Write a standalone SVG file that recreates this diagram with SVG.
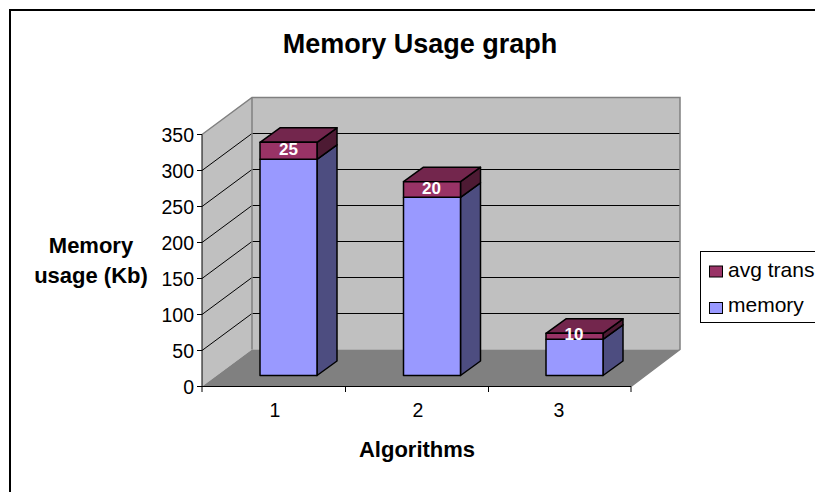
<svg xmlns="http://www.w3.org/2000/svg" width="815" height="492" viewBox="0 0 815 492">
<style>
text{font-family:"Liberation Sans",Arial,sans-serif;fill:#000}
.b{font-weight:bold}
.tick{font-size:19.5px;text-anchor:end}
.cat{font-size:19.5px;text-anchor:middle}
.ax{font-size:22px;font-weight:bold;text-anchor:middle}
.val{font-size:17px;font-weight:bold;fill:#fff;text-anchor:middle}
.leg{font-size:21px}
.grid{stroke:#000;stroke-width:1;fill:none}
.edge{stroke:#808080;stroke-width:1.5;fill:none}
.bar{stroke:#000;stroke-width:1.5;stroke-linejoin:round}
.mf{fill:#9999FF}.ms{fill:#4D4D80}
.af{fill:#993366}.at{fill:#73264D}.as{fill:#4D1A33}
</style>
<rect x="10" y="10" width="900" height="600" fill="#fff" stroke="#000" stroke-width="2"/>
<text x="420" y="53" class="b" style="font-size:27px" text-anchor="middle">Memory Usage graph</text>

<g id="plot-area">
  <polygon id="back-wall" points="252,97.5 680,97.5 680,349.5 252,349.5" fill="#C0C0C0"/>
  <polygon id="side-wall" points="202,134.5 252,97.5 252,349.5 202,386.5" fill="#C0C0C0"/>
  <polygon id="floor" points="202,386.5 631,386.5 680,349.5 252,349.5" fill="#808080"/>
  <g id="gridlines" class="grid">
    <path d="M252,133.5H680M252,169.5H680M252,205.5H680M252,241.5H680M252,277.5H680M252,313.5H680"/>
    <path d="M202,170.5L252,133.5M202,206.5L252,169.5M202,242.5L252,205.5M202,278.5L252,241.5M202,314.5L252,277.5M202,350.5L252,313.5"/>
  </g>
  <path class="edge" d="M202,134.5L252,97.5H680V349.5L631,386.5M252,97.5V349.5"/>
  <g id="axes" stroke="#000" stroke-width="1" fill="none">
    <path d="M202,134.5V386.5H631"/>
    <path d="M197,134.5H202M197,170.5H202M197,206.5H202M197,242.5H202M197,278.5H202M197,314.5H202M197,350.5H202M197,386.5H202"/>
    <path d="M202,386.5V392M345.5,386.5V392M488.5,386.5V392M631,386.5V392"/>
  </g>
  <g id="y-labels">
    <text class="tick" x="194" y="141.5">350</text>
    <text class="tick" x="194" y="177.5">300</text>
    <text class="tick" x="194" y="213.5">250</text>
    <text class="tick" x="194" y="249.5">200</text>
    <text class="tick" x="194" y="285.5">150</text>
    <text class="tick" x="194" y="321.5">100</text>
    <text class="tick" x="194" y="357.5">50</text>
    <text class="tick" x="194" y="393.5">0</text>
  </g>
  <g id="x-labels">
    <text class="cat" x="275" y="417">1</text>
    <text class="cat" x="418" y="417">2</text>
    <text class="cat" x="559" y="417">3</text>
  </g>
</g>

<g id="bar-1">
  <polygon class="bar ms" points="317,159.3 337,144.8 337,361 317,375.5"/>
  <rect class="bar mf" x="260" y="159.3" width="57" height="216.2"/>
  <polygon class="bar as" points="317,142.3 337,127.8 337,144.8 317,159.3"/>
  <polygon class="bar at" points="260,142.3 280,127.8 337,127.8 317,142.3"/>
  <rect class="bar af" x="260" y="142.3" width="57" height="17"/>
  <text class="val" x="288.5" y="154.5">25</text>
</g>
<g id="bar-2">
  <polygon class="bar ms" points="460.5,197.3 480.5,182.8 480.5,361 460.5,375.5"/>
  <rect class="bar mf" x="403.5" y="197.3" width="57" height="178.2"/>
  <polygon class="bar as" points="460.5,181.7 480.5,167.2 480.5,182.8 460.5,197.3"/>
  <polygon class="bar at" points="403.5,181.7 423.5,167.2 480.5,167.2 460.5,181.7"/>
  <rect class="bar af" x="403.5" y="181.7" width="57" height="15.6"/>
  <text class="val" x="431.5" y="193.5">20</text>
</g>
<g id="bar-3">
  <polygon class="bar ms" points="603,339.3 623,324.8 623,361 603,375.5"/>
  <rect class="bar mf" x="546" y="339.3" width="57" height="36.2"/>
  <polygon class="bar as" points="603,333.3 623,318.8 623,324.8 603,339.3"/>
  <polygon class="bar at" points="546,333.3 566,318.8 623,318.8 603,333.3"/>
  <rect class="bar af" x="546" y="333.3" width="57" height="6"/>
  <text class="val" x="574" y="340">10</text>
</g>

<text class="ax" x="91" y="253">Memory</text>
<text class="ax" x="91" y="283">usage (Kb)</text>
<text class="ax" x="417" y="457">Algorithms</text>

<g id="legend">
  <rect x="700.5" y="251.5" width="200" height="71" fill="#fff" stroke="#000" stroke-width="1"/>
  <rect x="709.5" y="266" width="13" height="11" fill="#993366" stroke="#000" stroke-width="1"/>
  <text class="leg" x="728" y="277">avg trans</text>
  <rect x="709.5" y="302.5" width="13" height="11" fill="#9999FF" stroke="#000" stroke-width="1"/>
  <text class="leg" x="728" y="311.5">memory</text>
</g>
</svg>
